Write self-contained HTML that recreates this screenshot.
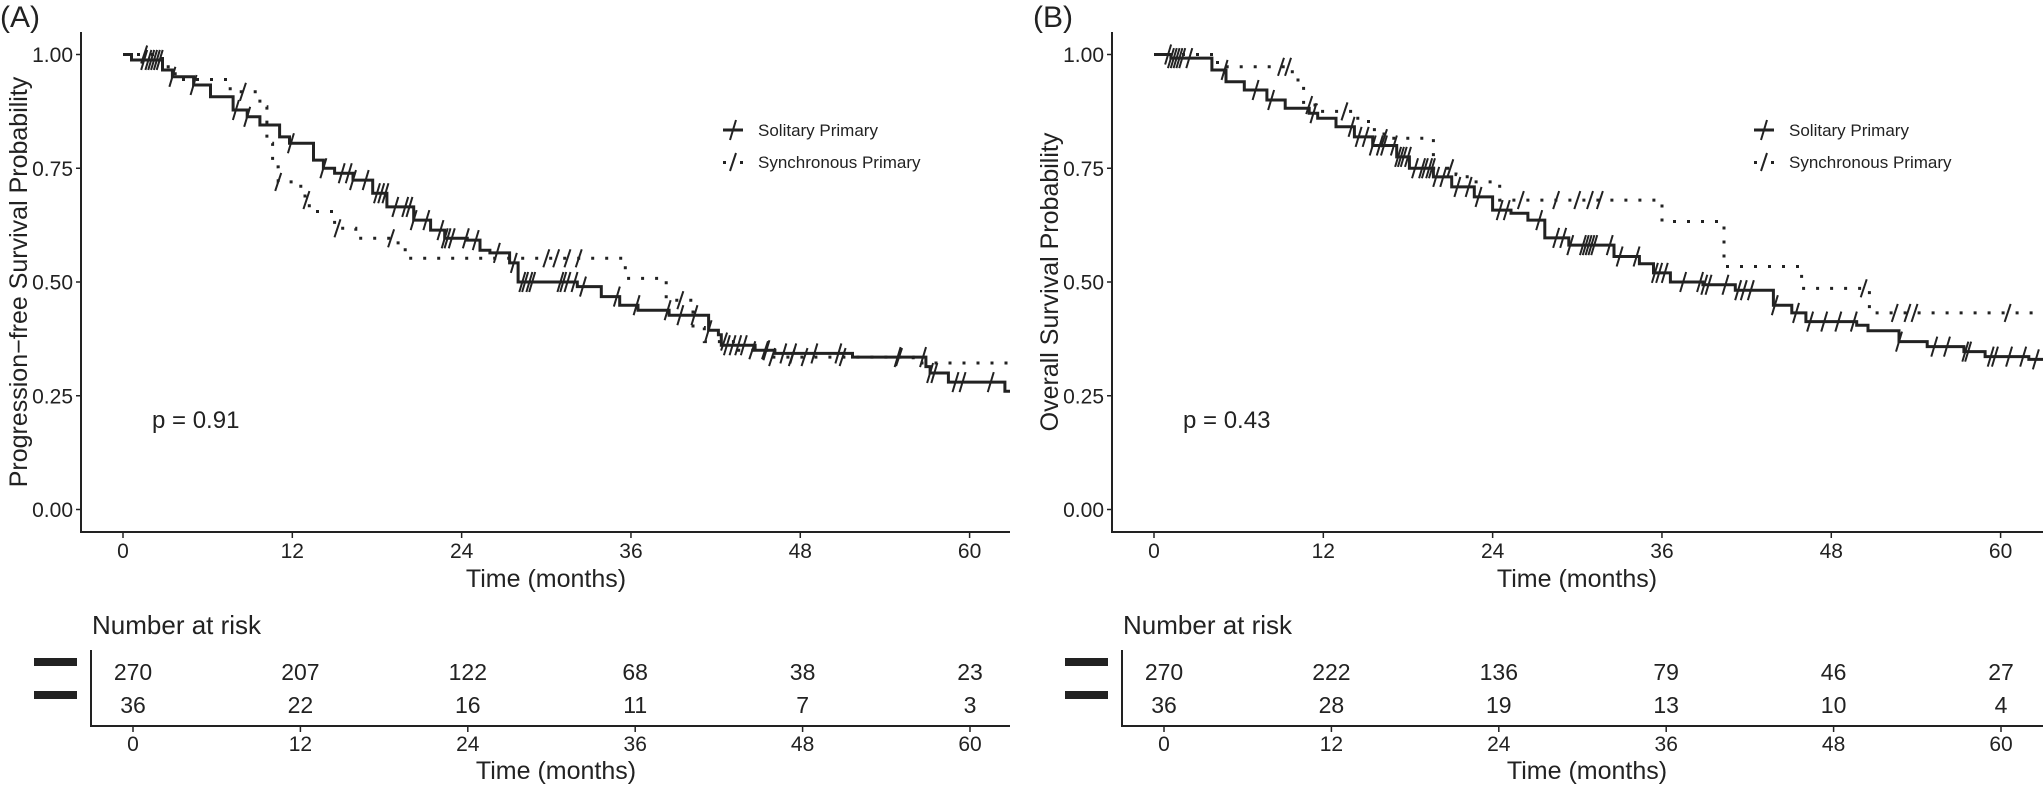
<!DOCTYPE html>
<html><head><meta charset="utf-8">
<style>
html,body{margin:0;padding:0;background:#fff;}
svg{display:block;font-family:"Liberation Sans",Arial,sans-serif;}
</style></head>
<body>
<svg id="chart" width="2043" height="785" viewBox="0 0 2043 785" xmlns="http://www.w3.org/2000/svg">
</svg>
<script>
// ---------- DATA ----------
const tickMonths = [0, 12, 24, 36, 48, 60];
const yTicks = [0, 0.25, 0.5, 0.75, 1.0];
const yTickLabels = ["0.00", "0.25", "0.50", "0.75", "1.00"];

// Panel A (progression-free) step times (months) and survival after step
const aSolT = [0.6,2.8,3.5,5,6.2,7.8,8.8,9.7,11.1,11.8,13.5,14.2,15,16.3,17.7,18.7,20.6,21.8,22.8,24.4,25.3,26,27.4,28,32.2,33.9,35.2,36.5,38.7,41.5,42.2,42.4,44.8,46.2,51.7,56.9,57.2,58.5,62.5];
const aSolS = [0.988,0.966,0.951,0.933,0.907,0.878,0.863,0.845,0.819,0.805,0.768,0.75,0.739,0.724,0.695,0.665,0.636,0.614,0.596,0.592,0.57,0.564,0.542,0.50,0.49,0.468,0.449,0.438,0.427,0.394,0.384,0.361,0.35,0.343,0.335,0.314,0.30,0.28,0.26];
const aSynT = [2.8,3.7,7.6,9.7,10.2,10.6,11.0,12.6,12.9,13.2,15,16.5,19.5,20,35.6,38.5,40.4,41.2,43.5,46,56];
const aSynS = [0.973,0.945,0.918,0.885,0.805,0.753,0.72,0.698,0.68,0.655,0.618,0.596,0.574,0.552,0.508,0.46,0.40,0.369,0.35,0.335,0.322];
const aSolCens = [1.5,1.8,2,2.2,2.4,2.6,3.5,5,8,8.8,11.9,14.2,15.5,16,16.3,17.2,18,18.3,18.6,19.3,20,20.3,20.6,21.5,22.5,22.8,23,23.3,24.3,25,26.5,27.7,28.3,28.5,28.8,29,31,31.2,31.5,32,32.6,35,36.4,38.6,39.5,40.5,41.5,42.8,43.2,43.6,44,45.6,46.8,47.5,49,50.7,54.9,56.7,57.2,57.5,59,59.5,61.5];
const aSynCens = [1.5,8.5,11,13,15.2,19,30,30.7,31.5,32.3,39.5,42.6,44.6,45.5,46,47.4,48.3,51,55];

// Panel B (overall) step times and survival
const bSolT = [1.2,4.1,5.1,6.4,8,9.3,11,11.6,12.9,14.2,15.5,17.2,18.1,19.8,21.1,22.7,24,25.3,26.5,27.7,29.4,32.6,34.4,35.4,36.6,38.9,41.2,43.9,45.2,46.2,49.8,50.6,52.8,54.8,57.4,58.9,62];
const bSolS = [0.992,0.966,0.94,0.922,0.90,0.882,0.871,0.86,0.841,0.819,0.80,0.775,0.75,0.731,0.709,0.687,0.658,0.651,0.636,0.597,0.581,0.556,0.54,0.52,0.50,0.494,0.482,0.449,0.432,0.413,0.405,0.393,0.369,0.358,0.347,0.336,0.33];
const bSynT = [4.5,9.8,10.6,11.5,14.2,15.2,16.3,19.8,21.4,22.2,24.5,36,40.4,45.9,50.7];
const bSynS = [0.973,0.944,0.889,0.875,0.86,0.835,0.816,0.75,0.736,0.72,0.68,0.633,0.534,0.486,0.432];
const bSolCens = [1,1.2,1.4,1.6,1.8,2,2.5,5,7.2,8.3,11.3,14,14.5,15,15.5,16,16.3,17,17.3,17.5,17.7,18,18.5,19,19.2,19.5,19.7,20,20.5,21.5,22.3,23,24.5,25,27.3,28.5,29,29.5,30.4,30.6,30.8,31,31.2,32.3,33,34.2,35.5,35.8,36.2,37.5,38.7,39,39.3,40.5,41.4,41.8,42.3,44,45.5,46.5,47.5,48.5,49.6,52.8,55.3,56.2,57.5,57.7,59.3,59.6,60.6,61.6,62.5];
const bSynCens = [9,9.5,11,13.5,16.3,21,26,28.5,30,30.9,31.6,50.3,52.5,53.4,53.9,60.5];

const aRiskSol = [270,207,122,68,38,23];
const aRiskSyn = [36,22,16,11,7,3];
const bRiskSol = [270,222,136,79,46,27];
const bRiskSyn = [36,28,19,13,10,4];

// ---------- DRAWING ----------
const NS = "http://www.w3.org/2000/svg";
const svg = document.getElementById("chart");
function mk(tag, attrs, parent, text) {
  const e = document.createElementNS(NS, tag);
  for (const k in attrs) e.setAttribute(k, attrs[k]);
  if (text !== undefined) e.textContent = text;
  (parent || svg).appendChild(e);
  return e;
}
function stepVal(T, S, t) { let v = 1; for (let i = 0; i < T.length; i++) { if (T[i] <= t) v = S[i]; } return v; }

function panel(cfg) {
  const off = cfg.off;
  const X = m => off + 123 + m * 14.11;
  const Y = s => 509.5 - s * 455;
  const TX = m => off + 133 + m * 13.95;
  const g = mk("g", {});
  
  

  const lab = mk("text", {x: off + (cfg.letter === "(A)" ? 0 : 2), y: 27, "font-size": 30, fill: "#222"}, g, cfg.letter);
  
  

  // clip
  const cid = "clip" + cfg.letter.replace(/\W/g, "");
  const cp = mk("clipPath", {id: cid}, g);
  mk("rect", {x: off + 82, y: 30, width: cfg.right - off - 82, height: 500}, cp);

  // axes
  const ya = mk("line", {x1: off + 81, y1: 32, x2: off + 81, y2: 533, stroke: "#222", "stroke-width": 2}, g);
  
  
  const xa = mk("line", {x1: off + 80, y1: 532, x2: cfg.right, y2: 532, stroke: "#222", "stroke-width": 2}, g);
  
  
  yTicks.forEach((v, i) => {
    mk("line", {x1: off + 76, y1: Y(v), x2: off + 81, y2: Y(v), stroke: "#222", "stroke-width": 1.5}, g);
    const t = mk("text", {x: off + 73, y: Y(v) + 7.5, "font-size": 21, "text-anchor": "end", fill: "#222"}, g, yTickLabels[i]);
    
    
  });
  tickMonths.forEach(m => {
    mk("line", {x1: X(m), y1: 532, x2: X(m), y2: 538, stroke: "#222", "stroke-width": 1.5}, g);
    const t = mk("text", {x: X(m), y: 558, "font-size": 21, "text-anchor": "middle", fill: "#222"}, g, String(m));
    
    
  });
  const xt = mk("text", {x: off + 546, y: 587, "font-size": 25, "text-anchor": "middle", fill: "#222"}, g, "Time (months)");
  
  
  const yt = mk("text", {x: 0, y: 0, "font-size": 25, "text-anchor": "middle", fill: "#222", transform: `translate(${off + 27},282) rotate(-90)`}, g, cfg.ytitle);
  
  

  // curves
  const cg = mk("g", {"clip-path": `url(#${cid})`}, g);
  function curve(T, S, dashed, name) {
    let d = `M${X(0)},${Y(1)}`;
    let prev = 1;
    for (let i = 0; i < T.length; i++) { d += ` H${X(T[i]).toFixed(1)} V${Y(S[i]).toFixed(1)}`; prev = S[i]; }
    d += ` H${X(64)}`;
    const p = mk("path", {d: d, fill: "none", stroke: "#222", "stroke-width": dashed ? 3 : 3, "stroke-dasharray": dashed ? "3 11" : "none"}, cg);
    
    
  }
  function cens(T, S, C, name, h) {
    C.forEach(c => {
      const x = X(c), y = Y(stepVal(T, S, c));
      const l = mk("line", {x1: x - 3, y1: y + h, x2: x + 3, y2: y - h, stroke: "#222", "stroke-width": 2}, cg);
      
      
    });
  }
  curve(cfg.synT, cfg.synS, true, "synchronous-curve");
  curve(cfg.solT, cfg.solS, false, "solitary-curve");
  cens(cfg.solT, cfg.solS, cfg.solC, "solitary-censor-mark", 10);
  cens(cfg.synT, cfg.synS, cfg.synC, "synchronous-censor-mark", 9);

  // legend
  const lg = mk("g", {}, g);
  
  
  mk("line", {x1: off + 723, y1: 130, x2: off + 743, y2: 130, stroke: "#222", "stroke-width": 3}, lg);
  mk("line", {x1: off + 730, y1: 140, x2: off + 736, y2: 120, stroke: "#222", "stroke-width": 2}, lg);
  const l1 = mk("text", {x: off + 758, y: 136, "font-size": 17, fill: "#222"}, lg, "Solitary Primary");
  
  
  mk("rect", {x: off + 723, y: 161, width: 3, height: 3, fill: "#222"}, lg);
  mk("line", {x1: off + 730, y1: 171, x2: off + 736, y2: 153, stroke: "#222", "stroke-width": 2}, lg);
  mk("rect", {x: off + 740, y: 161, width: 3, height: 3, fill: "#222"}, lg);
  const l2 = mk("text", {x: off + 758, y: 168, "font-size": 17, fill: "#222"}, lg, "Synchronous Primary");
  
  

  const pv = mk("text", {x: off + 152, y: 428, "font-size": 24, fill: "#222"}, g, cfg.p);
  
  

  // risk table
  const rt = mk("g", {}, g);
  
  
  const nt = mk("text", {x: off + 92, y: 634, "font-size": 26, fill: "#222"}, rt, "Number at risk");
  
  
  mk("rect", {x: off + 34, y: 658, width: 43, height: 8, fill: "#222"}, rt);
  mk("rect", {x: off + 34, y: 691, width: 43, height: 8, fill: "#222"}, rt);
  mk("line", {x1: off + 91, y1: 650, x2: off + 91, y2: 727, stroke: "#222", "stroke-width": 2}, rt);
  mk("line", {x1: off + 90, y1: 726, x2: cfg.right, y2: 726, stroke: "#222", "stroke-width": 2}, rt);
  tickMonths.forEach((m, i) => {
    const a = mk("text", {x: TX(m), y: 680, "font-size": 23, "text-anchor": "middle", fill: "#222"}, rt, String(cfg.rSol[i]));
    
    
    const b = mk("text", {x: TX(m), y: 713, "font-size": 23, "text-anchor": "middle", fill: "#222"}, rt, String(cfg.rSyn[i]));
    
    
    mk("line", {x1: TX(m), y1: 726, x2: TX(m), y2: 732, stroke: "#222", "stroke-width": 1.5}, rt);
    const c = mk("text", {x: TX(m), y: 751, "font-size": 21, "text-anchor": "middle", fill: "#222"}, rt, String(m));
    
    
  });
  const tt = mk("text", {x: off + 556, y: 779, "font-size": 25, "text-anchor": "middle", fill: "#222"}, rt, "Time (months)");
  
  
}

panel({off: 0, right: 1010, letter: "(A)", name: "panel-a-pfs", ytitle: "Progression\u2212free Survival Probability", p: "p = 0.91",
  solT: aSolT, solS: aSolS, synT: aSynT, synS: aSynS, solC: aSolCens, synC: aSynCens, rSol: aRiskSol, rSyn: aRiskSyn});
panel({off: 1031, right: 2043, letter: "(B)", name: "panel-b-os", ytitle: "Overall Survival Probability", p: "p = 0.43",
  solT: bSolT, solS: bSolS, synT: bSynT, synS: bSynS, solC: bSolCens, synC: bSynCens, rSol: bRiskSol, rSyn: bRiskSyn});
</script>
</body></html>
